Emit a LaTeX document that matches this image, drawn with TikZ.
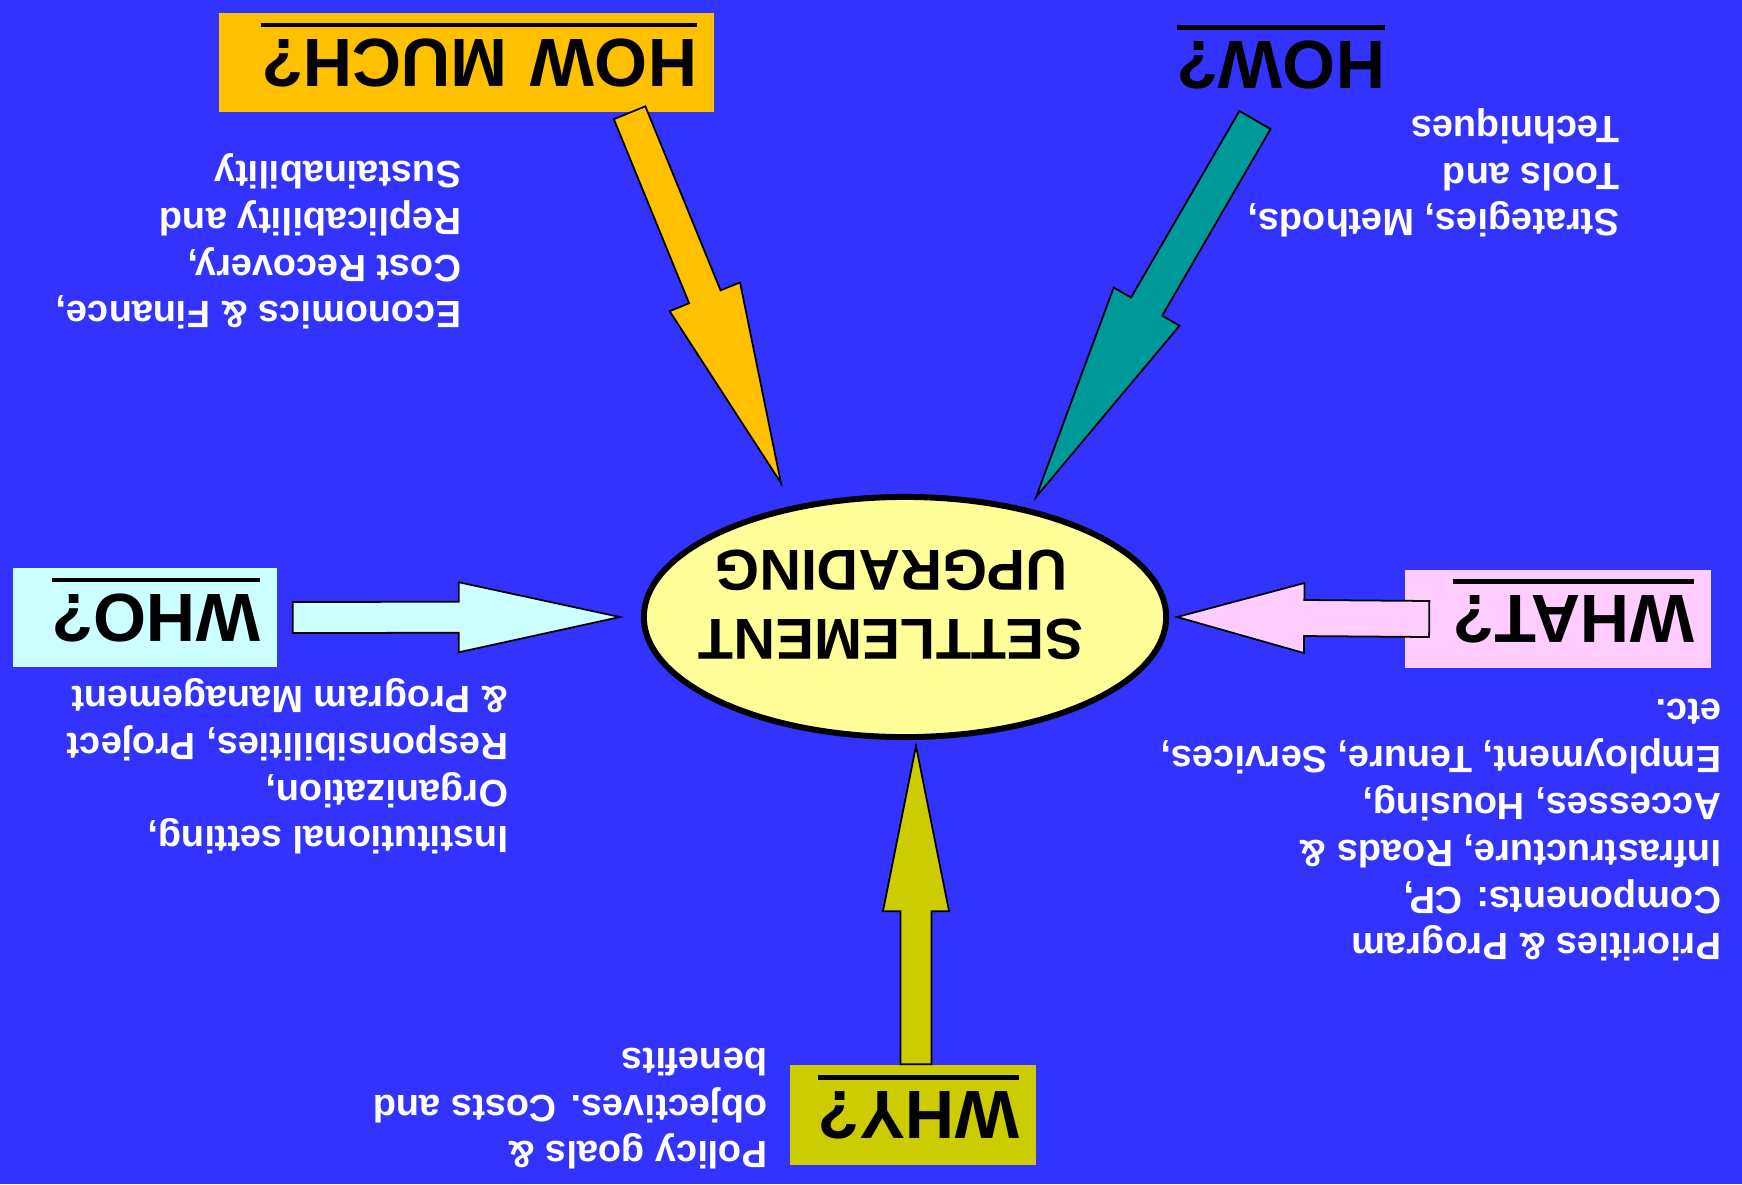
\documentclass[tikz,border=0pt]{standalone}
\usepackage{fontspec}
\setmainfont{Liberation Sans}
\usetikzlibrary{calc,shapes.geometric}

\definecolor{bgblue}{RGB}{51,51,255}
\definecolor{muchorange}{RGB}{255,192,0}
\definecolor{howteal}{RGB}{0,153,153}
\definecolor{whocyan}{RGB}{204,255,255}
\definecolor{whatpink}{RGB}{255,204,255}
\definecolor{whyolive}{RGB}{204,204,0}
\definecolor{hubyellow}{RGB}{255,255,153}

\newsavebox\ttlbox
\newcommand\ulbar[1]{\sbox\ttlbox{#1}\rlap{\smash{\rule[-4.6pt]{\wd\ttlbox}{1.3pt}}}\usebox\ttlbox}

% tail, tip, colour, shaft half width, head half width, head length
\newcommand\blockarrow[6]{%
  \coordinate (hb) at ($(#2)!#6!(#1)$);
  \filldraw[fill=#3, draw=black, line width=0.5pt, line join=miter]
    ($(#1)!#4!90:(#2)$) -- ($(hb)!#4!90:(#2)$) -- ($(hb)!#5!90:(#2)$) -- (#2)
    -- ($(hb)!#5!-90:(#2)$) -- ($(hb)!#4!-90:(#2)$) -- ($(#1)!#4!-90:(#2)$) -- cycle;}

\tikzset{
  title/.style={rotate=180, font=\fontsize{19.4}{23}\selectfont\bfseries,
    inner ysep=0pt, inner xsep=0.17cm, align=left},
  notes/.style={rotate=180, anchor=north west, inner sep=0pt, align=left,
    text=white, font=\fontsize{10.8}{13.3}\selectfont\bfseries},
  hub/.style={ellipse, draw=black, line width=1.7pt, fill=hubyellow,
    minimum width=5.22cm, minimum height=2.40cm},
  hubtext/.style={rotate=180, align=center, inner sep=0pt,
    font=\fontsize{16.4}{19.6}\selectfont\bfseries}
}

\begin{document}
\begin{tikzpicture}[x=0.01cm,y=-0.01cm]
    \fill[bgblue] (0,0) rectangle (1742,1184);

    \node[title, fill=muchorange, minimum height=0.99cm, text width=4.61cm] (howmuch) at (466.5,62.5) {\ulbar{HOW MUCH?}};
    \node[title] (how) at (1281,65) {\ulbar{HOW?}};
    \node[title, fill=whocyan, minimum height=0.99cm, text width=2.30cm] (who) at (145,617.5) {\ulbar{WHO?}};
    \node[title, fill=whatpink, minimum height=0.98cm, text width=2.72cm] (what) at (1558,619) {\ulbar{WHAT?}};
    \node[title, fill=whyolive, minimum height=1.00cm, text width=2.12cm] (why) at (913,1115) {\ulbar{WHY?}};

    \node[hub] (hub) at (905,617) {};

    \coordinate (muchtail) at ([xshift=1.63cm]howmuch.north);
    \coordinate (muchtip) at ([xshift=-1.24cm,yshift=0.11cm]hub.north);
    \coordinate (howtail) at ([xshift=-0.26cm,yshift=-0.55cm]how.center);
    \coordinate (howtip) at ([xshift=1.31cm,yshift=-0.03cm]hub.north);
    \coordinate (whotail) at ([xshift=0.15cm]who.west);
    \coordinate (whotip) at ([xshift=-0.21cm]hub.west);
    \coordinate (whattail) at ([xshift=0.25cm]what.east);
    \coordinate (whattip) at ([xshift=0.08cm]hub.east);
    \coordinate (whytail) at ([xshift=0.03cm]why.south);
    \coordinate (whytip) at ([xshift=0.11cm,yshift=-0.06cm]hub.south);

    \blockarrow{muchtail}{muchtip}{muchorange}{0.17cm}{0.38cm}{2.01cm}
    \blockarrow{howtail}{howtip}{howteal}{0.18cm}{0.38cm}{2.20cm}
    \blockarrow{whotail}{whotip}{whocyan}{0.155cm}{0.35cm}{1.61cm}
    \blockarrow{whattail}{whattip}{whatpink}{0.18cm}{0.35cm}{1.27cm}
    \blockarrow{whytail}{whytip}{whyolive}{0.155cm}{0.33cm}{1.65cm}

    \node[hubtext] (hubtext) at (891,605) {SETTLEMENT\\UPGRADING};

    \node[notes] (muchnotes) at (462,330) {Economics \& Finance,\\Cost Recovery,\\Replicability and\\Sustainability};
    \node[notes] (hownotes) at (1620,238) {Strategies, Methods,\\Tools and\\Techniques};
    \node[notes] (whonotes) at (509,855) {Institutional setting,\\Organization,\\Responsibilities, Project\\\& Program Management};
    \node[notes] (whatnotes) at (1722,962) {Priorities \& Program\\Components: CP,\\Infrastructure, Roads \&\\Accesses, Housing,\\Employment, Tenure, Services,\\etc.};
    \node[notes] (whynotes) at (768,1170) {Policy goals \&\\objectives. Costs and\\benefits};
\end{tikzpicture}
\end{document}
